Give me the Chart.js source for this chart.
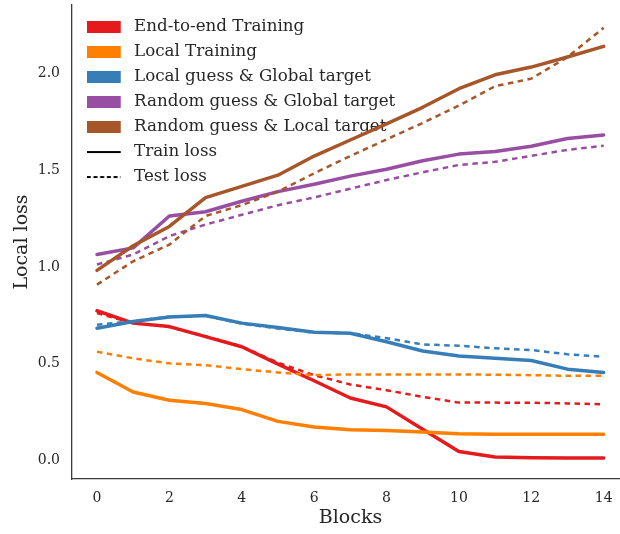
<!DOCTYPE html>
<html>
<head>
<meta charset="utf-8">
<script src="https://cdn.jsdelivr.net/npm/chart.js@4"></script>
<style>
  html, body { margin: 0; padding: 0; background: #fff; overflow: hidden; }
  #wrap { position: relative; width: 632px; height: 534px; }
</style>
</head>
<body>
<div id="wrap"><canvas id="c"></canvas></div>
<script>
const blocks = [0, 1, 2, 3, 4, 5, 6, 7, 8, 9, 10, 11, 12, 13, 14];
const xTicks = [0, 2, 4, 6, 8, 10, 12, 14];
const yTicks = [0.0, 0.5, 1.0, 1.5, 2.0];

const methodNames = ['End-to-end Training', 'Local Training', 'Local guess & Global target', 'Random guess & Global target', 'Random guess & Local target'];
const styleNames = ['Train loss', 'Test loss'];

const e2eTrain = [0.764, 0.700, 0.682, 0.630, 0.578, 0.488, 0.402, 0.313, 0.267, 0.151, 0.036, 0.008, 0.004, 0.003, 0.002];
const e2eTest = [0.752, 0.700, 0.680, 0.632, 0.580, 0.495, 0.431, 0.383, 0.353, 0.319, 0.289, 0.289, 0.288, 0.285, 0.280];
const localTrain = [0.445, 0.344, 0.301, 0.284, 0.253, 0.192, 0.163, 0.149, 0.145, 0.137, 0.128, 0.125, 0.125, 0.125, 0.125];
const localTest = [0.552, 0.518, 0.492, 0.483, 0.462, 0.445, 0.431, 0.435, 0.435, 0.435, 0.435, 0.433, 0.431, 0.428, 0.428];
const lgGtTrain = [0.674, 0.708, 0.732, 0.739, 0.700, 0.677, 0.653, 0.648, 0.604, 0.556, 0.530, 0.518, 0.507, 0.462, 0.445];
const lgGtTest = [0.691, 0.710, 0.733, 0.738, 0.697, 0.672, 0.651, 0.648, 0.622, 0.590, 0.583, 0.570, 0.561, 0.539, 0.526];
const rgGtTrain = [1.055, 1.089, 1.254, 1.276, 1.330, 1.380, 1.418, 1.460, 1.496, 1.540, 1.574, 1.588, 1.615, 1.655, 1.673];
const rgGtTest = [1.003, 1.055, 1.150, 1.210, 1.260, 1.310, 1.350, 1.395, 1.440, 1.480, 1.518, 1.534, 1.565, 1.596, 1.617];
const rgLtTrain = [0.973, 1.100, 1.200, 1.349, 1.407, 1.465, 1.564, 1.647, 1.730, 1.816, 1.912, 1.984, 2.024, 2.076, 2.131];
const rgLtTest = [0.899, 1.020, 1.106, 1.254, 1.310, 1.380, 1.475, 1.564, 1.650, 1.735, 1.825, 1.925, 1.964, 2.076, 2.227];

const colors = ['#e41a1c', '#ff7f00', '#377eb8', '#984ea3', '#a65628'];
const trainSeries = [e2eTrain, localTrain, lgGtTrain, rgGtTrain, rgLtTrain];
const testSeries = [e2eTest, localTest, lgGtTest, rgGtTest, rgLtTest];

const FONT = "'DejaVu Serif', serif";
const TEXT = '#262626';

const toPts = arr => blocks.map((b, i) => ({x: b, y: arr[i]}));

const datasets = [];
let k = 0;
methodNames.forEach((name, m) => {
  datasets.push({
    label: name + ' (' + styleNames[0] + ')',
    data: toPts(trainSeries[m]),
    borderColor: colors[m],
    borderWidth: 3.5,
    pointRadius: 0,
    tension: 0,
    fill: false,
    borderJoinStyle: 'round',
    borderCapStyle: 'round',
    order: 100 - (k++)
  });
  datasets.push({
    label: name + ' (' + styleNames[1] + ')',
    data: toPts(testSeries[m]),
    borderColor: colors[m],
    borderWidth: 2.5,
    borderDash: [5.5, 4.5],
    pointRadius: 0,
    tension: 0,
    fill: false,
    order: 100 - (k++)
  });
});

// legend swatches (glyph images)
const SW_W = 39, SW_H = 12, PATCH_W = 34;
function makeSwatch(drawFn) {
  const c = document.createElement('canvas');
  c.width = SW_W; c.height = SW_H;
  drawFn(c.getContext('2d'));
  return c;
}
const patchSwatches = colors.map(col => makeSwatch(g => { g.fillStyle = col; g.fillRect(0, 0, PATCH_W, SW_H); }));
const lineSwatch = dash => makeSwatch(g => {
  g.strokeStyle = '#000'; g.lineWidth = 2; g.setLineDash(dash);
  g.beginPath(); g.moveTo(0, SW_H / 2); g.lineTo(PATCH_W, SW_H / 2); g.stroke();
});
const trainSwatch = lineSwatch([]);
const testSwatch = lineSwatch([4, 2.7]);

const legendShift = {
  id: 'legendShift',
  afterLayout(chart) {
    if (chart.legend) {
      chart.legend.left = chart.chartArea.left + 6.4;
      chart.legend.top = chart.chartArea.top + 5.4;
    }
  }
};

new Chart(document.getElementById('c'), {
  type: 'line',
  data: { datasets },
  plugins: [legendShift],
  options: {
    responsive: true,
    maintainAspectRatio: false,
    animation: false,
    layout: { padding: { top: 5, right: 3, left: 0, bottom: 0 } },
    plugins: {
      tooltip: { enabled: false },
      legend: {
        position: 'chartArea',
        align: 'start',
        labels: {
          usePointStyle: true,
          pointStyleWidth: SW_W,
          boxHeight: SW_H,
          padding: 8.3,
          color: TEXT,
          font: { family: FONT, size: 16.7 },
          generateLabels() {
            const items = methodNames.map((n, m) => ({
              text: n,
              fillStyle: colors[m],
              strokeStyle: colors[m],
              lineWidth: 0,
              pointStyle: patchSwatches[m],
              hidden: false,
              fontColor: TEXT
            }));
            items.push({ text: styleNames[0], lineWidth: 0, pointStyle: trainSwatch, hidden: false, fontColor: TEXT });
            items.push({ text: styleNames[1], lineWidth: 0, pointStyle: testSwatch, hidden: false, fontColor: TEXT });
            return items;
          }
        }
      }
    },
    scales: {
      x: {
        type: 'linear',
        min: -0.69,
        max: 14.7,
        grid: { display: false, drawTicks: false },
        border: { display: true, color: '#3a3a3a', width: 1.3 },
        afterBuildTicks(s) { s.ticks = xTicks.map(v => ({value: v})); },
        afterFit(s) { s.height = 55; s.paddingLeft = 0; s.paddingRight = 0; },
        ticks: {
          color: TEXT,
          padding: 11,
          font: { family: FONT, size: 14 },
          maxRotation: 0,
          callback: v => String(v)
        },
        title: {
          display: true,
          text: 'Blocks',
          color: TEXT,
          font: { family: FONT, size: 19 },
          padding: { top: 0, bottom: 5 }
        }
      },
      y: {
        type: 'linear',
        min: -0.106,
        max: 2.345,
        grid: { display: false, drawTicks: false },
        border: { display: true, color: '#3a3a3a', width: 1.3 },
        afterBuildTicks(s) { s.ticks = yTicks.map(v => ({value: v})); },
        afterFit(s) { s.width = 72; s.paddingTop = 0; s.paddingBottom = 0; },
        ticks: {
          color: TEXT,
          padding: 12,
          labelOffset: 2,
          font: { family: FONT, size: 14 },
          callback: v => Number(v).toFixed(1)
        },
        title: {
          display: true,
          text: 'Local loss',
          color: TEXT,
          font: { family: FONT, size: 19 },
          padding: { top: 11, bottom: 0 }
        }
      }
    }
  }
});
</script>
</body>
</html>
